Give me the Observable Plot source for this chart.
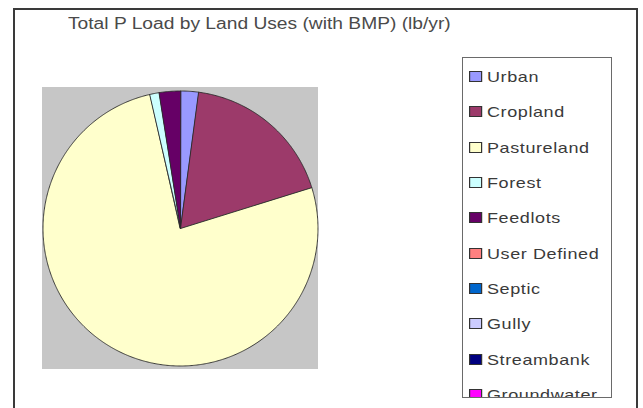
<!DOCTYPE html>
<html>
<head>
<meta charset="utf-8">
<script src="https://cdn.jsdelivr.net/npm/d3@7"></script>
<script src="https://cdn.jsdelivr.net/npm/@observablehq/plot@0.6"></script>
<style>
  html, body { margin: 0; padding: 0; background: #fff; }
  #wrap { position: relative; width: 643px; height: 408px; overflow: hidden; background: #fff;
          font-family: "Liberation Sans", Arial, sans-serif; }
  #frame { position: absolute; left: 13px; top: 8px; width: 621px; height: 500px;
           border: 2px solid #3a3a3a; box-sizing: content-box; }
  #title { position: absolute; left: 68px; top: 15px; font-size: 16px; color: #4a4a4a;
           white-space: nowrap; transform: scaleX(1.2); transform-origin: 0 0; }
  #pie { position: absolute; left: 42px; top: 87px; }
  #legendBox { position: absolute; left: 462px; top: 57px; width: 148px; height: 339px;
               border: 1px solid #6a6a6a; overflow: hidden; background: #fff; }
  #legendInner { width: 123px; transform: scaleX(1.2); transform-origin: 0 0; padding-top: 1px; }
  #legendInner .lg-swatches { font-family: "Liberation Sans", Arial, sans-serif; font-size: 15px;
                              color: #3a3a3a; margin: 0; }
  #legendInner .lg-swatch { height: 35.3px; padding: 0 0 0 5px; display: flex; align-items: center; }
  #legendInner .lg-swatch > svg { margin-right: 4px; overflow: hidden; }
  #legendInner .lg-swatch > svg rect { stroke: #333; stroke-width: 2px; }
  #legendInner .lg-swatch-label { overflow: visible; letter-spacing: 0.5px; }
</style>
</head>
<body>
<div id="wrap">
  <div id="frame"></div>
  <div id="title"></div>
  <div id="pie"></div>
  <div id="legendBox"><div id="legendInner"></div></div>
</div>
<script>
// ---- Data ----
const titleText = "Total P Load by Land Uses (with BMP) (lb/yr)";
const categories = ["Urban", "Cropland", "Pastureland", "Forest", "Feedlots",
                    "User Defined", "Septic", "Gully", "Streambank", "Groundwater"];
const values = [2.1, 18.1, 76.2, 1.1, 2.5, 0, 0, 0, 0, 0];
const colors = ["#9999ff", "#9c3a6a", "#ffffcc", "#ccffff", "#660066",
                "#ff8080", "#0066cc", "#ccccff", "#000080", "#ff00ff"];

document.getElementById("title").textContent = titleText;

// ---- Pie slices as planar polygons (angle clockwise from 12 o'clock) ----
const rows = categories.map((name, i) => ({name, value: values[i]}));
const arcs = d3.pie().sort(null).value(d => d.value)(rows);

function slicePolygon(a) {
  const ring = [[0, 0]];
  const n = Math.max(2, Math.ceil((a.endAngle - a.startAngle) / (Math.PI / 360)));
  for (let k = 0; k <= n; k++) {
    const t = a.startAngle + (a.endAngle - a.startAngle) * k / n;
    ring.push([Math.sin(t), -Math.cos(t)]);
  }
  ring.push([0, 0]);
  return {type: "Feature", properties: {name: a.data.name}, geometry: {type: "Polygon", coordinates: [ring]}};
}
const slices = arcs.filter(a => a.value > 0).map(slicePolygon);

const circleRing = d3.range(0, 361, 2).map(deg => {
  const t = deg * Math.PI / 180;
  return [Math.sin(t), -Math.cos(t)];
});
const circle = {type: "Feature", properties: {}, geometry: {type: "Polygon", coordinates: [circleRing]}};

const colorScale = {type: "ordinal", domain: categories, range: colors};

const pie = Plot.plot({
  width: 276,
  height: 282,
  margin: 0,
  style: {background: "#c6c6c6", overflow: "visible"},
  projection: {type: "identity", domain: circle, inset: 0.5},
  color: colorScale,
  marks: [
    Plot.geo(slices, {fill: d => d.properties.name, stroke: "#2a2a2a", strokeWidth: 0.9, strokeLinejoin: "round"})
  ]
});
document.getElementById("pie").appendChild(pie);

const legend = Plot.legend({
  color: colorScale,
  legend: "swatches",
  columns: 1,
  swatchWidth: 11,
  swatchHeight: 11,
  className: "lg"
});
document.getElementById("legendInner").appendChild(legend);
</script>
</body>
</html>
